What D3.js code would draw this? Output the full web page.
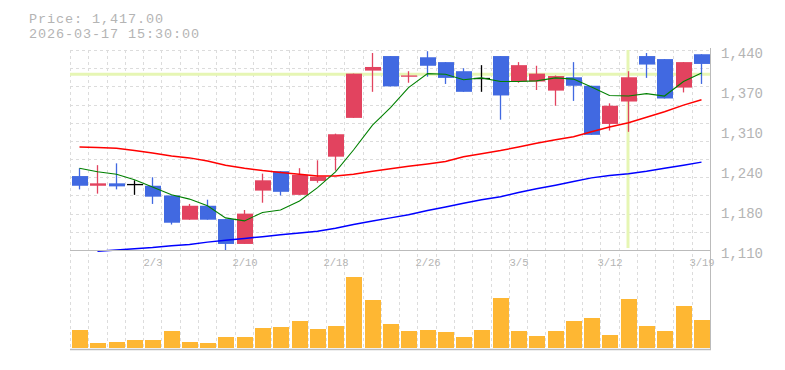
<!DOCTYPE html>
<html><head><meta charset="utf-8">
<script src="https://cdn.jsdelivr.net/npm/d3@7"></script>
<style>
html,body{margin:0;padding:0;background:#fff;}
svg{display:block;}
text{font-family:"Liberation Mono","DejaVu Sans Mono",monospace;fill:#b4b4b4;}
</style></head>
<body>
<svg id="chart" width="785" height="370"></svg>
<script>
// ---------- data ----------
const dates = ["1/28","1/29","1/30","2/2","2/3","2/4","2/5","2/6","2/9","2/10","2/12","2/13","2/16","2/17","2/18","2/19","2/20","2/24","2/25","2/26","2/27","3/2","3/3","3/4","3/5","3/6","3/9","3/10","3/11","3/12","3/13","3/16","3/17","3/18","3/19"];
const opens  = [1232,1216,1220,1219,1216,1200,1160,1183,1161,1120,1208,1240,1201,1224,1264,1328,1406,1430,1396,1428,1420,1405,1394,1430,1388,1388,1373,1395,1381,1318,1355,1430,1425,1378,1433];
const highs  = [1245,1250,1253,1225,1230,1200,1186,1193,1161,1176,1236,1240,1245,1258,1302,1401,1435,1430,1405,1438,1420,1410,1415,1430,1420,1414,1398,1420,1381,1352,1405,1435,1425,1420,1433];
const lows   = [1210,1203,1210,1201,1186,1152,1160,1160,1110,1120,1188,1200,1201,1221,1241,1328,1371,1380,1386,1396,1384,1371,1371,1325,1386,1374,1348,1356,1300,1307,1305,1394,1360,1370,1384];
const closes = [1216,1220,1215,1219,1198,1155,1183,1160,1120,1170,1225,1206,1234,1231,1301,1401,1412,1380,1398,1414,1394,1371,1394,1365,1415,1401,1397,1381,1300,1348,1395,1416,1360,1420,1417];
const volumes = [180,50,60,80,80,170,60,50,110,110,200,210,270,190,220,710,480,240,170,180,160,110,180,500,170,120,170,270,300,130,490,220,170,420,280];
const ma5  = [1245,1239,1235,1226,1214,1201,1194,1183,1163,1158,1172,1176,1191,1213,1239,1275,1316,1345,1378,1401,1400,1391,1394,1388,1388,1389,1394,1392,1379,1365,1364,1368,1364,1388,1402];
const ma25 = [1280,1279,1278,1274,1270,1265,1262,1257,1250,1245,1241,1238,1235,1232,1232,1235,1240,1244,1248,1252,1256,1264,1269,1274,1280,1286,1292,1297,1305,1313,1320,1329,1338,1349,1358];
const ma75 = [null,1108,1110,1112,1114,1117,1119,1123,1126,1129,1132,1135,1138,1141,1146,1152,1158,1163,1168,1175,1181,1187,1193,1198,1205,1211,1217,1223,1229,1233,1236,1240,1245,1250,1255];
const priceTicks = [1440,1374,1308,1242,1176,1110];
const priceTickLabels = ["1,440","1,370","1,310","1,240","1,180","1,110"];
const dateTickLabels = ["2/3","2/10","2/18","2/26","3/5","3/12","3/19"];
const headerLines = ["Price: 1,417.00","2026-03-17 15:30:00"];
const crosshairDate = "3/13";
const crosshairPrice = 1400;

// ---------- styles ----------
const UP = "#e2435f", DOWN = "#4169e1", FLAT = "#000";
const VOL = "#feb733", GRID = "#dcdcdc", AXIS = "#bbb", CROSS = "#e6f6b4";

const svg = d3.select("#chart");
const n = dates.length;
const plotL = 70, plotR = 710, priceT = 50, priceB = 250, volB = 349.5;

const x = d3.scaleBand().domain(d3.range(n)).range([plotL, plotR]).paddingInner(0.125).paddingOuter(0.0625);
const xEdge = d3.scaleLinear().domain([0, n]).range([plotL, plotR]);
const y = d3.scaleLinear().domain([1110, 1440]).range([priceB, priceT]);
const yGrid = d3.scaleLinear().domain([0, 11]).range([priceB, priceT]);
const yv = d3.scaleLinear().domain([0, 800]).range([348, 268]);
const cx = i => Math.round(x(i) + x.bandwidth() / 2);
const bx = i => Math.round(x(i)) + 1;

// grid
const g = svg.append("g");
g.selectAll(".hg").data(d3.range(1, 12)).join("line")
  .attr("x1", plotL).attr("x2", plotR)
  .attr("y1", d => Math.round(yGrid(d)) + 0.5).attr("y2", d => Math.round(yGrid(d)) + 0.5)
  .attr("stroke", GRID).attr("stroke-dasharray", "3,3");
g.selectAll(".vg").data(d3.range(0, n)).join("line")
  .attr("x1", d => Math.round(xEdge(d)) + 0.5).attr("x2", d => Math.round(xEdge(d)) + 0.5)
  .attr("y1", priceT).attr("y2", volB)
  .attr("stroke", GRID).attr("stroke-dasharray", "3,3");

// crosshair
const ci = dates.indexOf(crosshairDate);
svg.append("line").attr("x1", plotL).attr("x2", plotR)
  .attr("y1", y(crosshairPrice)).attr("y2", y(crosshairPrice))
  .attr("stroke", CROSS).attr("stroke-width", 3);
svg.append("line").attr("x1", cx(ci)).attr("x2", cx(ci))
  .attr("y1", priceT).attr("y2", priceB - 2)
  .attr("stroke", CROSS).attr("stroke-width", 3);

// volume bars
svg.append("g").selectAll("rect").data(volumes).join("rect")
  .attr("x", (d, i) => bx(i)).attr("width", Math.round(x.bandwidth()))
  .attr("y", d => yv(d)).attr("height", d => yv(0) - yv(d))
  .attr("fill", VOL);

// candles
const candles = d3.range(n).map(i => ({i, o: opens[i], h: highs[i], l: lows[i], c: closes[i]}));
const colorOf = d => d.c > d.o ? UP : (d.c < d.o ? DOWN : FLAT);
const cg = svg.append("g");
cg.selectAll(".wick").data(candles).join("line")
  .attr("x1", d => cx(d.i) + 0.5).attr("x2", d => cx(d.i) + 0.5)
  .attr("y1", d => y(d.h)).attr("y2", d => y(d.l))
  .attr("stroke", colorOf).attr("stroke-width", 1.3);
cg.selectAll(".body").data(candles).join("rect")
  .attr("x", d => bx(d.i)).attr("width", Math.round(x.bandwidth()))
  .attr("y", d => y(Math.max(d.o, d.c)))
  .attr("height", d => Math.max(1.3, Math.abs(y(d.o) - y(d.c))))
  .attr("fill", colorOf);

// moving averages
const maLine = d3.line().defined(d => d[1] != null).x(d => cx(d[0]) + 0.5).y(d => y(d[1]));
[[ma75, "#0000ff", 1.5], [ma25, "#ff0000", 1.5], [ma5, "#008000", 1.1]].forEach(([arr, col, w]) => {
  svg.append("path").datum(arr.map((v, i) => [i, v]))
    .attr("d", maLine).attr("fill", "none").attr("stroke", col).attr("stroke-width", w);
});

// axes/borders
svg.append("line").attr("x1", plotL).attr("x2", plotR + 1).attr("y1", priceB + 0.5).attr("y2", priceB + 0.5).attr("stroke", AXIS);
svg.append("line").attr("x1", plotL).attr("x2", plotR + 1).attr("y1", volB).attr("y2", volB).attr("stroke", AXIS).attr("stroke-width", 1.5);
svg.append("line").attr("x1", plotR + 0.5).attr("x2", plotR + 0.5).attr("y1", priceT - 2).attr("y2", volB).attr("stroke", AXIS);

// price labels
svg.append("g").selectAll("text").data(priceTicks).join("text")
  .attr("x", 721).attr("y", d => y(d) + 7.5)
  .attr("font-size", 14).text((d, i) => priceTickLabels[i]);

// date labels
svg.append("g").selectAll("text").data(dateTickLabels).join("text")
  .attr("x", d => cx(dates.indexOf(d)) + 1).attr("y", 266)
  .attr("text-anchor", "middle").attr("font-size", 10.5).text(d => d);

// header: two lines
svg.append("g").selectAll("text").data(headerLines).join("text")
  .attr("x", 29).attr("y", (d, i) => 22.8 + i * 15.5)
  .attr("font-size", 13.5).attr("letter-spacing", 0.9).text(d => d);
</script>
</body></html>
